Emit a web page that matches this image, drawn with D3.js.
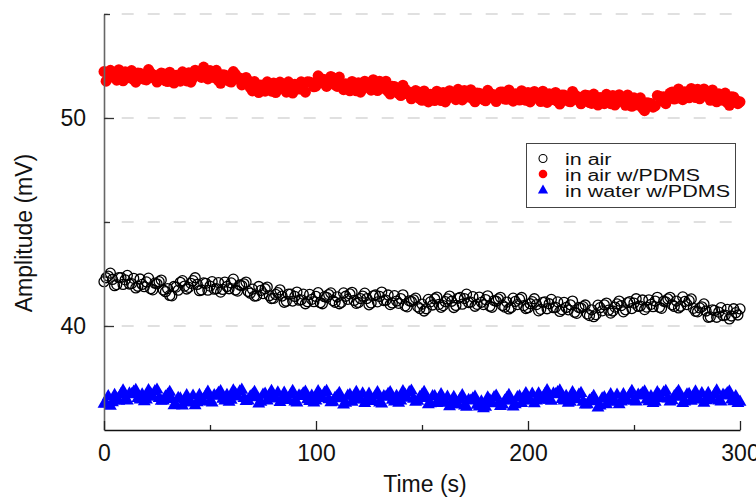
<!DOCTYPE html>
<html>
<head>
<meta charset="utf-8">
<script src="https://cdn.jsdelivr.net/npm/d3@7/dist/d3.min.js"></script>
<style>
  html, body { margin: 0; padding: 0; background: #fff; }
  svg { display: block; font-family: "Liberation Sans", Arial, sans-serif; }
</style>
</head>
<body>
<svg id="chart" width="756" height="497"></svg>
<script>
// ---- data (sampled every 1 s, 0..300 s) ----
const timeStep = 1;
const inAir = [
42.13,42.32,42.40,42.54,42.24,41.94,41.99,42.33,42.33,42.00,42.22,42.43,42.02,42.04,42.29,41.83,41.91,42.26,42.00,41.89,
42.12,42.30,41.79,41.74,42.06,42.03,42.13,42.21,41.73,41.65,41.80,41.47,41.45,41.90,41.87,41.72,42.10,42.18,41.92,41.78,
41.86,42.05,42.18,42.32,42.00,41.70,41.73,42.07,42.05,41.72,41.92,42.13,41.77,41.79,42.09,41.63,41.76,42.11,41.90,41.79,
42.07,42.25,41.73,41.68,41.97,41.94,42.03,42.11,41.66,41.58,41.77,41.44,41.45,41.90,41.71,41.56,41.79,41.87,41.46,41.32,
41.33,41.52,41.60,41.74,41.44,41.14,41.19,41.53,41.53,41.20,41.42,41.63,41.24,41.26,41.53,41.07,41.17,41.52,41.28,41.17,
41.42,41.60,41.12,41.07,41.41,41.38,41.51,41.59,41.22,41.14,41.40,41.07,41.14,41.59,41.43,41.28,41.54,41.62,41.23,41.09,
41.13,41.32,41.44,41.58,41.32,41.02,41.11,41.45,41.49,41.16,41.42,41.63,41.22,41.24,41.49,41.03,41.11,41.46,41.20,41.09,
41.32,41.50,40.97,40.92,41.21,41.18,41.26,41.34,40.92,40.84,41.05,40.72,40.83,41.28,41.16,41.01,41.31,41.39,41.04,40.90,
40.98,41.17,41.30,41.44,41.19,40.89,40.99,41.33,41.38,41.05,41.32,41.53,41.13,41.15,41.41,40.95,41.04,41.39,41.14,41.03,
41.27,41.45,40.95,40.90,41.22,41.19,41.30,41.38,40.99,40.91,41.15,40.82,40.89,41.34,41.18,41.03,41.29,41.37,40.98,40.84,
40.88,41.07,41.17,41.31,41.03,40.73,40.80,41.14,41.16,40.83,41.07,41.28,40.88,40.90,41.16,40.70,40.79,41.14,40.89,40.78,
41.02,41.20,40.66,40.61,40.89,40.86,40.93,41.01,40.58,40.50,40.78,40.45,40.55,41.00,40.88,40.73,41.02,41.10,40.76,40.62,
40.72,40.91,41.06,41.20,40.98,40.68,40.78,41.12,41.17,40.84,41.10,41.31,40.94,40.96,41.25,40.79,40.91,41.26,41.04,40.93,
41.20,41.38,40.90,40.85,41.19,41.16,41.30,41.38,41.02,40.94,41.20,40.87,40.95,41.40,41.18,41.03,41.22,41.30,40.85,40.71,
40.68,40.87,40.92,41.06,40.72,40.42,40.44,40.78,40.75,40.42,40.67,40.88,40.50,40.52,40.80,40.34,40.48,40.83,40.64,40.53,
40.82];
const inAirPDMS = [
52.23,51.77,51.92,52.29,52.08,51.98,51.82,52.32,52.11,51.79,52.22,52.02,51.93,52.28,51.85,51.72,52.16,52.15,52.04,51.86,
51.83,52.33,52.17,51.94,52.06,51.73,51.86,52.16,52.13,51.79,51.75,52.20,51.89,51.68,52.06,52.00,51.77,52.22,52.07,51.78,
52.18,51.72,51.93,52.30,52.15,52.05,51.95,52.45,52.20,51.88,52.28,52.08,51.94,52.29,51.80,51.67,52.08,52.07,51.95,51.77,
51.73,52.23,52.10,51.87,51.92,51.59,51.65,51.95,51.80,51.46,51.30,51.75,51.43,51.22,51.59,51.53,51.29,51.74,51.58,51.29,
51.68,51.22,51.36,51.73,51.51,51.41,51.24,51.74,51.52,51.20,51.62,51.42,51.39,51.74,51.37,51.24,51.74,51.73,51.68,51.50,
51.53,52.03,51.92,51.69,51.85,51.52,51.70,52.00,51.93,51.59,51.52,51.97,51.57,51.36,51.65,51.59,51.31,51.76,51.60,51.31,
51.70,51.24,51.40,51.77,51.58,51.48,51.34,51.84,51.64,51.32,51.77,51.57,51.42,51.77,51.28,51.15,51.53,51.52,51.35,51.17,
51.08,51.58,51.39,51.16,51.25,50.92,51.02,51.32,51.26,50.92,50.85,51.30,50.98,50.77,51.14,51.08,50.84,51.29,51.13,50.84,
51.23,50.77,50.94,51.31,51.12,51.02,50.88,51.38,51.19,50.87,51.32,51.12,51.01,51.36,50.91,50.78,51.20,51.19,51.06,50.88,
50.83,51.33,51.20,50.97,51.12,50.79,50.95,51.25,51.25,50.91,50.90,51.35,51.02,50.81,51.17,51.11,50.86,51.31,51.14,50.85,
51.23,50.77,50.91,51.28,51.06,50.96,50.79,51.29,51.07,50.75,51.17,50.97,50.88,51.23,50.80,50.67,51.11,51.10,50.99,50.81,
50.78,51.28,51.12,50.89,51.01,50.68,50.81,51.11,51.08,50.74,50.70,51.15,50.83,50.62,50.99,50.93,50.69,51.14,50.98,50.69,
51.08,50.62,50.75,51.12,50.89,50.79,50.61,51.11,50.88,50.56,50.97,50.77,50.62,50.97,50.48,50.35,50.73,50.72,50.70,50.52,
50.58,51.08,51.05,50.82,51.02,50.69,50.90,51.20,51.25,50.91,50.95,51.40,51.09,50.88,51.26,51.20,50.97,51.42,51.27,50.98,
51.38,50.92,51.03,51.40,51.15,51.05,50.85,51.35,51.10,50.78,51.17,50.97,50.85,51.20,50.74,50.61,51.02,51.01,50.87,50.69,
50.78];
const inWaterPDMS = [
36.25,36.27,36.61,36.15,36.32,36.67,36.50,36.39,36.71,36.89,36.46,36.41,36.74,36.71,36.83,36.91,36.53,36.45,36.70,36.37,
36.45,36.90,36.74,36.59,36.85,36.93,36.53,36.39,36.41,36.60,36.68,36.82,36.48,36.18,36.19,36.53,36.50,36.17,36.45,36.66,
36.31,36.33,36.64,36.18,36.32,36.67,36.48,36.37,36.65,36.83,36.36,36.31,36.66,36.63,36.77,36.85,36.49,36.41,36.67,36.34,
36.44,36.89,36.75,36.60,36.84,36.92,36.52,36.38,36.41,36.60,36.68,36.82,36.56,36.26,36.35,36.69,36.73,36.40,36.66,36.87,
36.50,36.52,36.79,36.33,36.43,36.78,36.54,36.43,36.68,36.86,36.36,36.31,36.65,36.62,36.75,36.83,36.46,36.38,36.64,36.31,
36.40,36.85,36.68,36.53,36.78,36.86,36.46,36.32,36.35,36.54,36.63,36.77,36.51,36.21,36.30,36.64,36.68,36.35,36.61,36.82,
36.45,36.47,36.74,36.28,36.38,36.73,36.49,36.38,36.63,36.81,36.31,36.26,36.61,36.58,36.72,36.80,36.44,36.36,36.63,36.30,
36.40,36.85,36.69,36.54,36.80,36.88,36.49,36.35,36.39,36.58,36.68,36.82,36.52,36.22,36.27,36.61,36.61,36.28,36.50,36.71,
36.30,36.32,36.59,36.13,36.23,36.58,36.34,36.23,36.48,36.66,36.16,36.11,36.43,36.40,36.51,36.59,36.20,36.12,36.36,36.03,
36.10,36.55,36.42,36.27,36.56,36.64,36.28,36.14,36.21,36.40,36.53,36.67,36.42,36.12,36.22,36.56,36.61,36.28,36.55,36.76,
36.40,36.42,36.73,36.27,36.40,36.75,36.55,36.44,36.72,36.90,36.44,36.39,36.74,36.71,36.81,36.89,36.48,36.40,36.63,36.30,
36.35,36.80,36.61,36.46,36.69,36.77,36.35,36.21,36.22,36.41,36.48,36.62,36.37,36.07,36.17,36.51,36.56,36.23,36.50,36.71,
36.35,36.37,36.68,36.22,36.36,36.71,36.51,36.40,36.69,36.87,36.41,36.36,36.68,36.65,36.76,36.84,36.45,36.37,36.61,36.28,
36.35,36.80,36.66,36.51,36.79,36.87,36.50,36.36,36.42,36.61,36.73,36.87,36.59,36.29,36.36,36.70,36.72,36.39,36.63,36.84,
36.45,36.47,36.76,36.30,36.42,36.77,36.55,36.44,36.71,36.89,36.41,36.36,36.68,36.65,36.76,36.84,36.45,36.37,36.61,36.28,
36.35];
const seriesNames = ["in air", "in air w/PDMS", "in water w/PDMS"];
const xTicks = [0, 100, 200, 300];
const xMinorTicks = [50, 150, 250];
const yTicks = [40, 50];
const yMinorTicks = [45, 55];
const gridValues = [40, 45, 50, 55];

// ---- layout ----
const svg = d3.select("#chart");
const x = d3.scaleLinear().domain([0, 300]).range([104, 740]);
const y = d3.scaleLinear().domain([35, 55]).range([430, 14]);

// gridlines
svg.append("g").selectAll("line").data(gridValues).join("line")
  .attr("x1", x(0)).attr("x2", x(300))
  .attr("y1", d => y(d)).attr("y2", d => y(d))
  .attr("stroke", "#d6d6d6").attr("stroke-width", 1.6)
  .attr("stroke-dasharray", "12,14").attr("stroke-dashoffset", 8.3);

// data
const t = i => i * timeStep;
svg.append("g").selectAll("circle").data(inAir).join("circle")
  .attr("cx", (d, i) => x(t(i))).attr("cy", d => y(d)).attr("r", 5)
  .attr("fill", "none").attr("stroke", "#000").attr("stroke-width", 1.3);

svg.append("g").selectAll("circle").data(inAirPDMS).join("circle")
  .attr("cx", (d, i) => x(t(i))).attr("cy", d => y(d)).attr("r", 5.5)
  .attr("fill", "#ff0000");

const tri = d3.symbol().type(d3.symbolTriangle).size(72);
svg.append("g").selectAll("path").data(inWaterPDMS).join("path")
  .attr("d", tri)
  .attr("transform", (d, i) => `translate(${x(t(i))},${y(d)})`)
  .attr("fill", "#0000ff");

// axes
const yAxis = d3.axisLeft(y).tickValues(yTicks).tickFormat(d3.format("d"))
  .tickSizeInner(-10).tickSizeOuter(0).tickPadding(18);
const gy = svg.append("g").attr("transform", `translate(${x(0)},0)`).call(yAxis);
gy.select(".domain").attr("stroke", "#666").attr("stroke-width", 1.6);
gy.selectAll(".tick line").attr("stroke", "#333").attr("stroke-width", 1.3);
gy.selectAll(".tick text").attr("font-size", 23).attr("fill", "#111")
  .attr("font-family", "'Liberation Sans', Arial, sans-serif");

const yMinor = d3.axisLeft(y).tickValues(yMinorTicks).tickFormat("")
  .tickSizeInner(-6).tickSizeOuter(0);
const gym = svg.append("g").attr("transform", `translate(${x(0)},0)`).call(yMinor);
gym.select(".domain").remove();
gym.selectAll(".tick line").attr("stroke", "#333").attr("stroke-width", 1.3);

const xAxis = d3.axisBottom(x).tickValues(xTicks).tickFormat(d3.format("d"))
  .tickSizeInner(-9).tickSizeOuter(0).tickPadding(14.7);
const gx = svg.append("g").attr("transform", `translate(0,${y(35)})`).call(xAxis);
gx.select(".domain").attr("stroke", "#111").attr("stroke-width", 1.6);
gx.selectAll(".tick line").attr("stroke", "#222").attr("stroke-width", 1.3);
gx.selectAll(".tick text").attr("font-size", 23).attr("fill", "#111")
  .attr("font-family", "'Liberation Sans', Arial, sans-serif");

const xMinor = d3.axisBottom(x).tickValues(xMinorTicks).tickFormat("")
  .tickSizeInner(-5).tickSizeOuter(0);
const gxm = svg.append("g").attr("transform", `translate(0,${y(35)})`).call(xMinor);
gxm.select(".domain").remove();
gxm.selectAll(".tick line").attr("stroke", "#222").attr("stroke-width", 1.3);

// axis titles
svg.append("text").attr("x", 425).attr("y", 492).attr("text-anchor", "middle")
  .attr("font-size", 23).attr("fill", "#111").text("Time (s)");
svg.append("text").attr("transform", "translate(32,233) rotate(-90)")
  .attr("text-anchor", "middle").attr("font-size", 23).attr("fill", "#111")
  .text("Amplitude (mV)");

// legend
const legend = svg.append("g");
legend.append("rect").attr("x", 526.5).attr("y", 143.5).attr("width", 209).attr("height", 64)
  .attr("fill", "#fff").attr("stroke", "#444").attr("stroke-width", 1);
const legRows = [
  { name: seriesNames[0], y: 165, len: 46.5 },
  { name: seriesNames[1], y: 180.5, len: 135 },
  { name: seriesNames[2], y: 196.5, len: 165 }
];
legRows.forEach(r => {
  legend.append("text").attr("x", 565).attr("y", r.y)
    .attr("font-size", 16).attr("fill", "#111")
    .attr("textLength", r.len).attr("lengthAdjust", "spacingAndGlyphs")
    .text(r.name);
});
legend.append("circle").attr("cx", 543).attr("cy", 158.5).attr("r", 4)
  .attr("fill", "#fff").attr("stroke", "#000").attr("stroke-width", 1.1);
legend.append("circle").attr("cx", 543).attr("cy", 174).attr("r", 4.3)
  .attr("fill", "#ff0000");
legend.append("path").attr("d", d3.symbol().type(d3.symbolTriangle).size(45)())
  .attr("transform", "translate(543,190.5)").attr("fill", "#0000ff");
</script>
</body>
</html>
